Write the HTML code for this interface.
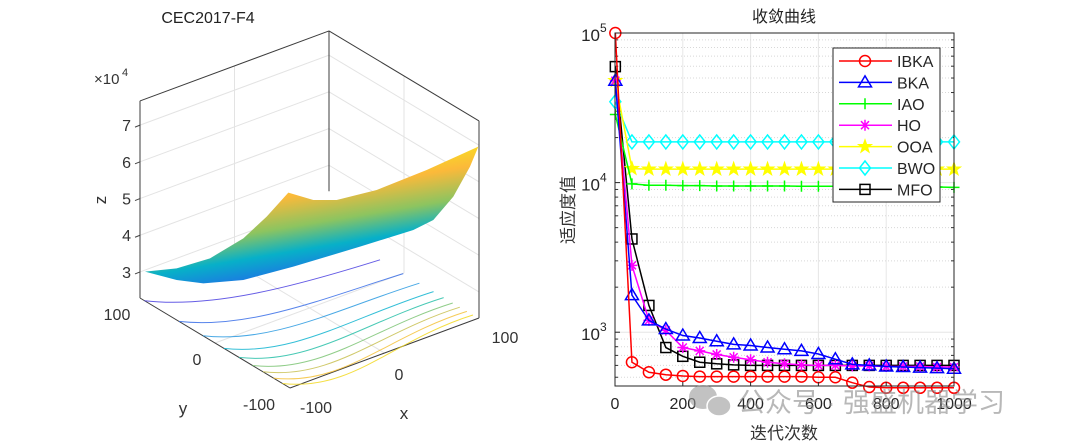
<!DOCTYPE html>
<html><head><meta charset="utf-8"><style>
html,body{margin:0;padding:0;background:#fff;width:1080px;height:446px;overflow:hidden}
svg{display:block}
text{font-family:"Liberation Sans","Noto Sans CJK SC",sans-serif}
</style></head><body>
<svg id="root" width="1080" height="446" viewBox="0 0 1080 446" xmlns="http://www.w3.org/2000/svg">
<defs>
<linearGradient id="surfGrad" gradientUnits="userSpaceOnUse" x1="300" y1="170" x2="320" y2="290">
<stop offset="0" stop-color="#f9e020"/><stop offset="0.2" stop-color="#fbb93a"/>
<stop offset="0.45" stop-color="#8cc460"/><stop offset="0.65" stop-color="#07b0c8"/>
<stop offset="0.82" stop-color="#1a7ee0"/><stop offset="1" stop-color="#3c3fd8"/>
</linearGradient>
</defs>
<g id="left"></g>
<g id="right"></g>
<g opacity="0.6">
<ellipse cx="703" cy="397" rx="14" ry="12" fill="#9a9a9a"/>
<ellipse cx="719" cy="406" rx="12" ry="10" fill="#9a9a9a" stroke="#fff" stroke-width="1.5"/>
<text x="738" y="412" font-size="27" fill="#8a8a8a">公众号 · 强盛机器学习</text>
</g>
</svg>
<script>
const NS='http://www.w3.org/2000/svg';
function mk(parent,tag,attrs,txt){const e=document.createElementNS(NS,tag);for(const k in attrs)e.setAttribute(k,attrs[k]);if(txt!==undefined)e.textContent=txt;parent.appendChild(e);return e;}

/* ---------- LEFT: 3D surface ---------- */
const L=document.getElementById('left');
const zTicks=[3,4,5,6,7];
const xyTicks=[-100,0,100];
const contourLevels=[0.03,0.26,0.42,0.56,0.66,0.75,0.82,0.89,0.95];
const contourColors=['#4a3fe0','#3a6ee8','#2a9ae0','#10b4d0','#28c0a8','#7cc474','#c8c050','#f4c23a','#f2d820'];
const O={x:290,y:388}, EX={x:189,y:-70}, EY={x:-150,y:-90};
const zFloor=2.29, zPx=36.7;
function P(x,y,z){const a=(x+100)/200,b=(y+100)/200;return {x:O.x+a*EX.x+b*EY.x, y:O.y+a*EX.y+b*EY.y-(z-zFloor)*zPx};}
const zTop=7.66;
zTicks.forEach(z=>{const a=P(-100,100,z),b=P(100,100,z),c=P(100,-100,z);
 const g=mk(L,'polyline',{points:`${a.x},${a.y} ${b.x},${b.y} ${c.x},${c.y}`,fill:'none',stroke:'#e3e3e3','stroke-width':1});
 
 const t=P(-100,100,z);
 mk(L,'line',{x1:t.x,y1:t.y,x2:t.x-5,y2:t.y+2,stroke:'#444'});
 const lb=mk(L,'text',{x:t.x-9,y:t.y+6,'font-size':16,fill:'#333','text-anchor':'end'},String(z));
 
});
[[P(0,100,zFloor),P(0,100,zTop)],[P(100,0,zFloor),P(100,0,zTop)],[P(0,-100,zFloor),P(0,100,zFloor)],[P(-100,0,zFloor),P(100,0,zFloor)]].forEach(s=>{
 mk(L,'line',{x1:s[0].x,y1:s[0].y,x2:s[1].x,y2:s[1].y,stroke:'#e3e3e3'});
});
function edge(p,q){mk(L,'line',{x1:p.x,y1:p.y,x2:q.x,y2:q.y,stroke:'#3c3c3c','stroke-width':1});}
edge(P(-100,100,zFloor),P(-100,100,zTop));
edge(P(100,100,zFloor+1.0),P(100,100,zTop));
edge(P(100,-100,zFloor),P(100,-100,zTop));
edge(P(-100,100,zTop),P(100,100,zTop));
edge(P(100,100,zTop),P(100,-100,zTop));
edge(P(-100,100,zFloor),P(-100,-100,zFloor));
edge(P(-100,-100,zFloor),P(100,-100,zFloor));
const A={x:140,y:298},B={x:290,y:388},C={x:377,y:258},D={x:478,y:318};
contourLevels.forEach((t,i)=>{
 const s={x:A.x+(B.x-A.x)*t,y:A.y+(B.y-A.y)*t},e={x:C.x+(D.x-C.x)*t,y:C.y+(D.y-C.y)*t};
 const p=mk(L,'path',{d:`M${s.x},${s.y} C${s.x+70},${s.y+8} ${e.x-80},${e.y+25} ${e.x},${e.y}`,fill:'none',stroke:contourColors[i],'stroke-width':1,opacity:0.85});
 
});
const sp=[[255,755],[350,745],[450,715],[550,655],[620,590],[685,518],[760,540],[830,540],[950,510],[1100,450],[1255,380],[1230,440],[1180,530],[1120,600],[1060,630],[900,680],[700,740],[550,780],[430,790],[350,780]];
const surf=mk(L,'polygon',{points:sp.map(p=>`${60+p[0]/3},${20+p[1]/3}`).join(' '),fill:'url(#surfGrad)'});

function lab(x,y,s,txt,name,extra){const t=mk(L,'text',Object.assign({x:x,y:y,'font-size':s,fill:'#333','text-anchor':'middle'},extra||{}),txt);return t;}
lab(208,23,16,'CEC2017-F4','left-title',{fill:'#222'});
lab(94,84,15,'×10','z-exponent',{'text-anchor':'start'});
mk(L,'text',{x:122,y:76,'font-size':11,fill:'#333'},'4');
lab(106,200,17,'z','z-axis-title',{transform:'rotate(-90 106 200)'});
lab(117,320,16,'100','y-tick-label');lab(197,365,16,'0','y-tick-label');lab(259,410,16,'-100','y-tick-label');
lab(183,414,17,'y','y-axis-title');
lab(316,413,16,'-100','x-tick-label');lab(399,380,16,'0','x-tick-label');lab(505,343,16,'100','x-tick-label');
lab(404,419,17,'x','x-axis-title');

/* ---------- RIGHT: convergence ---------- */
const R=document.getElementById('right');
const iters=[1,50,100,150,200,250,300,350,400,450,500,550,600,650,700,750,800,850,900,950,1000];
const seriesNames=['IBKA','BKA','IAO','HO','OOA','BWO','MFO'];
const seriesColors=['#ff0000','#0000ff','#00ff00','#ff00ff','#ffff00','#00ffff','#000000'];
const seriesMarkers=['circle','triangle','plus','star','pentagram','diamond','square'];
const IBKA=[100000,630,540,520,510,505,505,505,505,505,505,505,500,500,460,430,425,425,425,425,425];
const BKA=[48000,1770,1200,1050,950,915,870,830,815,790,770,750,715,660,610,600,590,585,580,575,570];
const IAO=[28500,9800,9600,9600,9550,9550,9500,9500,9500,9500,9500,9450,9450,9450,9400,9400,9400,9400,9350,9350,9300];
const HO=[48000,2800,1200,1030,790,750,710,680,655,630,615,605,600,600,595,595,590,590,590,585,585];
const OOA=[48000,12400,12300,12300,12300,12300,12300,12300,12300,12300,12300,12300,12300,12300,12300,12300,12300,12300,12300,12300,12300];
const BWO=[34700,18700,18700,18700,18700,18700,18700,18700,18700,18700,18700,18700,18700,18700,18700,18700,18700,18700,18700,18700,18700];
const MFO=[59600,4200,1510,790,690,630,615,605,600,600,600,600,600,600,600,600,600,600,600,600,600];
const seriesData=[IBKA,BKA,IAO,HO,OOA,BWO,MFO];
const xTicks=[0,200,400,600,800,1000];
const yDecades=[3,4,5];
const ax={l:615,r:954,t:33,b:386};
const yMinLog=Math.log10(437), yMaxLog=5;
const xs=v=>ax.l+(v/1000)*(ax.r-ax.l);
const ys=v=>ax.b-(Math.log10(v)-yMinLog)/(yMaxLog-yMinLog)*(ax.b-ax.t);
xTicks.forEach(v=>{const g=mk(R,'line',{x1:xs(v),y1:ax.t,x2:xs(v),y2:ax.b,stroke:'#e6e6e6'});});
for(let d=2;d<=4;d++){for(let m=1;m<10;m++){const v=m*Math.pow(10,d);if(Math.log10(v)<yMinLog||Math.log10(v)>yMaxLog)continue;
 const y=ys(v);
 if(m===1){mk(R,'line',{x1:ax.l,y1:y,x2:ax.r,y2:y,stroke:'#e6e6e6'});}
 else{mk(R,'line',{x1:ax.l,y1:y,x2:ax.r,y2:y,stroke:'#d8d8d8','stroke-dasharray':'1,2'});
  mk(R,'line',{x1:ax.l,y1:y,x2:ax.l+3,y2:y,stroke:'#333'});mk(R,'line',{x1:ax.r,y1:y,x2:ax.r-3,y2:y,stroke:'#333'});}
}}
function marker(g,type,x,y,c){const s=5.5;let e;
 if(type==='circle')e=mk(g,'circle',{cx:x,cy:y,r:s,fill:'none',stroke:c,'stroke-width':1.5});
 else if(type==='triangle')e=mk(g,'polygon',{points:`${x},${y-s-1} ${x-s-1},${y+s-1} ${x+s+1},${y+s-1}`,fill:'none',stroke:c,'stroke-width':1.5});
 else if(type==='plus'){e=mk(g,'path',{d:`M${x-s},${y}H${x+s}M${x},${y-s}V${y+s}`,stroke:c,'stroke-width':1.5});}
 else if(type==='star'){e=mk(g,'path',{d:`M${x-s},${y}H${x+s}M${x},${y-s}V${y+s}M${x-4},${y-4}L${x+4},${y+4}M${x-4},${y+4}L${x+4},${y-4}`,stroke:c,'stroke-width':1.5});}
 else if(type==='pentagram'){let pts=[];for(let k=0;k<10;k++){const r=k%2?2.8:7;const a=-Math.PI/2+k*Math.PI/5;pts.push(`${x+r*Math.cos(a)},${y+r*Math.sin(a)}`);}e=mk(g,'polygon',{points:pts.join(' '),fill:c,stroke:c,'stroke-width':1});}
 else if(type==='diamond')e=mk(g,'polygon',{points:`${x},${y-s-1.5} ${x+s},${y} ${x},${y+s+1.5} ${x-s},${y}`,fill:'none',stroke:c,'stroke-width':1.5});
 else e=mk(g,'rect',{x:x-s+0.5,y:y-s+0.5,width:2*s-1,height:2*s-1,fill:'none',stroke:c,'stroke-width':1.5});
 return e;}
const order=[6,5,4,3,2,1,0];
order.forEach(i=>{
 const g=mk(R,'g',{});
 
 
 const d=seriesData[i];
 mk(g,'polyline',{points:d.map((v,k)=>`${xs(iters[k])},${ys(v)}`).join(' '),fill:'none',stroke:seriesColors[i],'stroke-width':1.5});
 d.forEach((v,k)=>{const m=marker(g,seriesMarkers[i],xs(iters[k]),ys(v),seriesColors[i]);});
});
mk(R,'rect',{x:ax.l,y:ax.t,width:ax.r-ax.l,height:ax.b-ax.t,fill:'none',stroke:'#262626','stroke-width':1});
xTicks.forEach(v=>{mk(R,'line',{x1:xs(v),y1:ax.b,x2:xs(v),y2:ax.b-4,stroke:'#262626'});
 const t=mk(R,'text',{x:xs(v),y:ax.b+23,'font-size':16,fill:'#262626','text-anchor':'middle'},String(v));
 });
yDecades.forEach(d=>{const y=ys(Math.pow(10,d));
 mk(R,'line',{x1:ax.l,y1:y,x2:ax.l+5,y2:y,stroke:'#262626'});
 const t=mk(R,'text',{x:ax.l-15,y:y+8,'font-size':17,fill:'#262626','text-anchor':'end'},'10');
 
 mk(R,'text',{x:ax.l-15,y:y-1,'font-size':12,fill:'#262626'},String(d));});
const tt=mk(R,'text',{x:784,y:22,'font-size':16,fill:'#222','text-anchor':'middle','font-family':'"Noto Serif CJK SC",serif'},'收敛曲线');

const xl=mk(R,'text',{x:784,y:439,'font-size':17,fill:'#333','text-anchor':'middle','font-family':'"Noto Serif CJK SC",serif'},'迭代次数');

const yl=mk(R,'text',{x:574,y:210,'font-size':17,fill:'#333','text-anchor':'middle','font-family':'"Noto Serif CJK SC",serif',transform:'rotate(-90 574 210)'},'适应度值');

const lg=mk(R,'g',{});


mk(lg,'rect',{x:833,y:48,width:107,height:154,fill:'#fff',stroke:'#262626','stroke-width':1});
seriesNames.forEach((n,i)=>{const y=61+i*21.4;
 const e=mk(lg,'g',{});
 
 
 mk(e,'line',{x1:839,y1:y,x2:892,y2:y,stroke:seriesColors[i],'stroke-width':1.5});
 marker(e,seriesMarkers[i],865,y,seriesColors[i]);
 mk(e,'text',{x:897,y:y+6,'font-size':16,fill:'#262626'},n);});
</script>
</body></html>
